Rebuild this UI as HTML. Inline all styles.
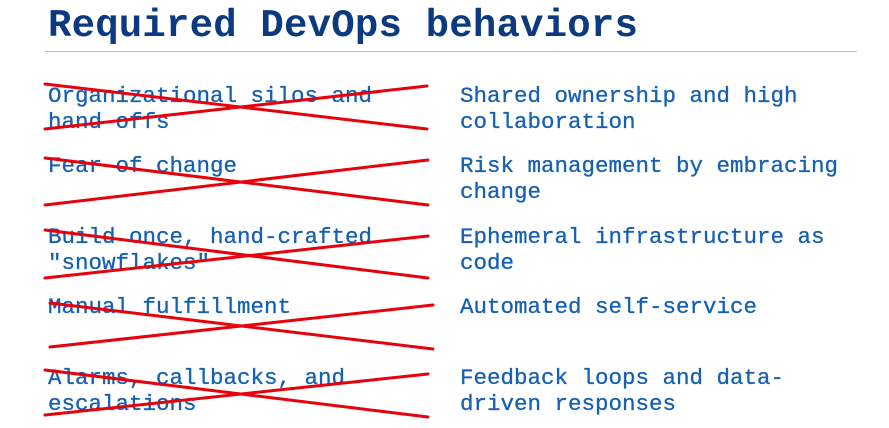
<!DOCTYPE html>
<html><head><style>
body{margin:0;width:889px;height:428px;background:#fff;position:relative;overflow:hidden;font-family:"Liberation Mono",monospace}
.t{position:absolute;left:48px;top:4px;font-size:39px;font-weight:bold;color:#0b3a80;letter-spacing:0.2px}
.hr{position:absolute;left:45px;top:51px;width:812px;height:1px;background:#b9c6d8}
.c{position:absolute;font-size:22.5px;line-height:26px;color:#1560b0;white-space:pre;-webkit-text-stroke:0.3px #1560b0}
svg{position:absolute;left:0;top:0}
</style></head><body>
<div class="t">Required DevOps behaviors</div>
<div class="hr"></div>
<div class="c" style="left:48px;top:83px">Organizational silos and
hand-offs</div>
<div class="c" style="left:48px;top:153px">Fear of change</div>
<div class="c" style="left:48px;top:224px">Build once, hand-crafted
"snowflakes"</div>
<div class="c" style="left:48px;top:294px">Manual fulfillment</div>
<div class="c" style="left:48px;top:365px">Alarms, callbacks, and
escalations</div>
<div class="c" style="left:460px;top:83px">Shared ownership and high
collaboration</div>
<div class="c" style="left:460px;top:153px">Risk management by embracing
change</div>
<div class="c" style="left:460px;top:224px">Ephemeral infrastructure as
code</div>
<div class="c" style="left:460px;top:294px">Automated self-service</div>
<div class="c" style="left:460px;top:365px">Feedback loops and data-
driven responses</div>
<svg width="889" height="428" stroke="#e8000b" stroke-width="3" stroke-linecap="round">
<line x1="45" y1="84" x2="427" y2="129"/><line x1="45" y1="129" x2="427" y2="86"/>
<line x1="45" y1="158" x2="428" y2="205"/><line x1="45" y1="205" x2="428" y2="160"/>
<line x1="45" y1="230" x2="428" y2="278"/><line x1="45" y1="278" x2="428" y2="236"/>
<line x1="50" y1="303" x2="433" y2="349"/><line x1="50" y1="347" x2="433" y2="305"/>
<line x1="45" y1="370" x2="428" y2="417"/><line x1="45" y1="415" x2="428" y2="374"/>
</svg>
</body></html>
